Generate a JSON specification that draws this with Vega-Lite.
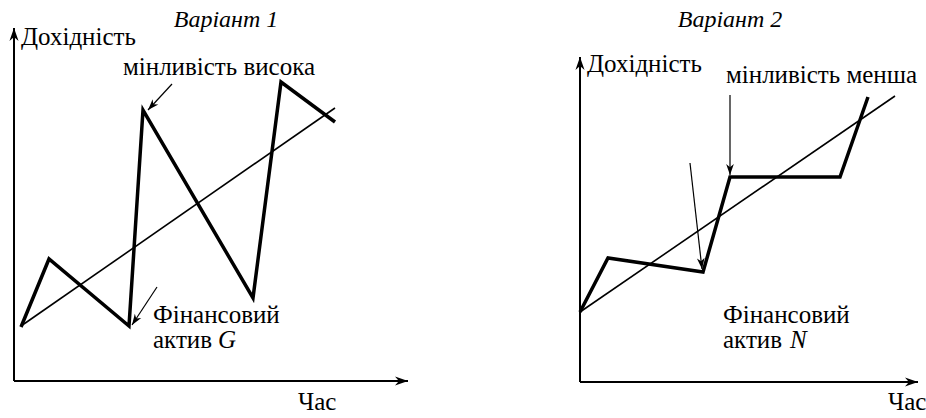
{
  "$schema": "https://vega.github.io/schema/vega-lite/v6.json",
  "padding": 0,
  "spacing": 0,
  "bounds": "flush",
  "config": {
    "view": {"stroke": null},
    "font": "Liberation Serif, Times New Roman, DejaVu Serif, serif",
    "text": {"font": "Liberation Serif, Times New Roman, DejaVu Serif, serif", "fontSize": 25, "color": "#000"}
  },
  "datasets": {
    "path": [
      {"panel": "G", "step": 1, "t": 1.75, "r": 13.5},
      {"panel": "G", "step": 2, "t": 8.75, "r": 30.5},
      {"panel": "G", "step": 3, "t": 28.75, "r": 13.75},
      {"panel": "G", "step": 4, "t": 32.25, "r": 67.75},
      {"panel": "G", "step": 5, "t": 59.75, "r": 20.75},
      {"panel": "G", "step": 6, "t": 66.75, "r": 74.75},
      {"panel": "G", "step": 7, "t": 80.25, "r": 64.75},
      {"panel": "N", "step": 1, "t": 0, "r": 17.5},
      {"panel": "N", "step": 2, "t": 7, "r": 31},
      {"panel": "N", "step": 3, "t": 30.75, "r": 27.5},
      {"panel": "N", "step": 4, "t": 37.5, "r": 51.25},
      {"panel": "N", "step": 5, "t": 65, "r": 51.25},
      {"panel": "N", "step": 6, "t": 72, "r": 71.25}
    ],
    "segments": [
      {"panel": "G", "id": "axis-r", "kind": "axis", "t": 0, "r": 0, "t2": 0, "r2": 88.25},
      {"panel": "G", "id": "axis-t", "kind": "axis", "t": 0, "r": 0, "t2": 98.5, "r2": 0},
      {"panel": "G", "id": "trend", "kind": "trend", "t": 1.75, "r": 13.75, "t2": 80.25, "r2": 68.25},
      {"panel": "G", "id": "peak", "kind": "pointer", "t": 39.5, "r": 74.25, "t2": 33.5, "r2": 67.75},
      {"panel": "G", "id": "asset", "kind": "pointer", "t": 35.75, "r": 23.5, "t2": 29.5, "r2": 14},
      {"panel": "N", "id": "axis-r", "kind": "axis", "t": 0, "r": 0, "t2": 0, "r2": 81.25},
      {"panel": "N", "id": "axis-t", "kind": "axis", "t": 0, "r": 0, "t2": 84.5, "r2": 0},
      {"panel": "N", "id": "trend", "kind": "trend", "t": 0, "r": 17.5, "t2": 78.75, "r2": 71.5},
      {"panel": "N", "id": "plateau", "kind": "pointer", "t": 37.5, "r": 71.75, "t2": 37.5, "r2": 51.75},
      {"panel": "N", "id": "asset", "kind": "pointer", "t": 27.5, "r": 54.75, "t2": 30.5, "r2": 28.25}
    ],
    "labels": [
      {"panel": "G", "text": "Дохідність", "t": 1.75, "r": 84},
      {"panel": "G", "text": "мінливість висока", "t": 27.25, "r": 76.5},
      {"panel": "G", "text": "Фінансовий", "t": 34.75, "r": 14.5},
      {"panel": "G", "text": "актив", "t": 34.75, "r": 8.25},
      {"panel": "G", "text": "Час", "t": 71, "r": -7.25},
      {"panel": "N", "text": "Дохідність", "t": 1.75, "r": 77.5},
      {"panel": "N", "text": "мінливість менша", "t": 36.5, "r": 74.75},
      {"panel": "N", "text": "Фінансовий", "t": 35.75, "r": 14.75},
      {"panel": "N", "text": "актив", "t": 35.75, "r": 8.5},
      {"panel": "N", "text": "Час", "t": 77, "r": -7}
    ],
    "titles": [
      {"panel": "G", "text": "Варіант 1", "t": 53, "r": 88.5},
      {"panel": "N", "text": "Варіант 2", "t": 37.5, "r": 88.75}
    ],
    "symbols": [
      {"panel": "G", "text": "G", "t": 51, "r": 8.25},
      {"panel": "N", "text": "N", "t": 52.5, "r": 8.5}
    ]
  },
  "hconcat": [
    {
      "width": 463,
      "height": 418,
      "encoding": {
        "x": {"field": "t", "type": "quantitative", "scale": {"domain": [-3.5, 112.25], "nice": false, "zero": false}, "axis": null},
        "y": {"field": "r", "type": "quantitative", "scale": {"domain": [-9.25, 95.25], "nice": false, "zero": false}, "axis": null}
      },
      "layer": [
        {
          "data": {"name": "segments"},
          "transform": [{"filter": "datum.panel === 'G' && datum.kind === 'axis'"}],
          "mark": {"type": "rule", "strokeWidth": 2, "color": "#000"},
          "encoding": {"x2": {"field": "t2"}, "y2": {"field": "r2"}}
        },
        {
          "data": {"name": "segments"},
          "transform": [{"filter": "datum.panel === 'G' && datum.kind === 'trend'"}],
          "mark": {"type": "rule", "strokeWidth": 1.6, "color": "#000"},
          "encoding": {"x2": {"field": "t2"}, "y2": {"field": "r2"}}
        },
        {
          "data": {"name": "segments"},
          "transform": [{"filter": "datum.panel === 'G' && datum.kind === 'pointer'"}],
          "mark": {"type": "rule", "strokeWidth": 1.2, "color": "#000"},
          "encoding": {"x2": {"field": "t2"}, "y2": {"field": "r2"}}
        },
        {
          "data": {"name": "path"},
          "transform": [{"filter": "datum.panel === 'G'"}],
          "mark": {"type": "line", "strokeWidth": 3.5, "color": "#000", "strokeJoin": "miter", "strokeCap": "butt"},
          "encoding": {"order": {"field": "step"}}
        },
        {
          "data": {"name": "segments"},
          "transform": [{"filter": "datum.panel === 'G' && datum.id === 'axis-r'"}],
          "mark": {"type": "point", "shape": "M0,0 L-2,-0.7 L-1.4,0 L-2,0.7 Z", "filled": true, "color": "#000", "opacity": 1, "size": 169, "angle": -90, "strokeWidth": 0},
          "encoding": {
            "x": {"field": "t2", "type": "quantitative", "scale": {"domain": [-3.5, 112.25], "nice": false, "zero": false}, "axis": null},
            "y": {"field": "r2", "type": "quantitative", "scale": {"domain": [-9.25, 95.25], "nice": false, "zero": false}, "axis": null}
          }
        },
        {
          "data": {"name": "segments"},
          "transform": [{"filter": "datum.panel === 'G' && datum.id === 'axis-t'"}],
          "mark": {"type": "point", "shape": "M0,0 L-2,-0.7 L-1.4,0 L-2,0.7 Z", "filled": true, "color": "#000", "opacity": 1, "size": 169, "angle": 0, "strokeWidth": 0},
          "encoding": {
            "x": {"field": "t2", "type": "quantitative", "scale": {"domain": [-3.5, 112.25], "nice": false, "zero": false}, "axis": null},
            "y": {"field": "r2", "type": "quantitative", "scale": {"domain": [-9.25, 95.25], "nice": false, "zero": false}, "axis": null}
          }
        },
        {
          "data": {"name": "segments"},
          "transform": [{"filter": "datum.panel === 'G' && datum.id === 'peak'"}],
          "mark": {"type": "point", "shape": "M0,0 L-2,-0.7 L-1.4,0 L-2,0.7 Z", "filled": true, "color": "#000", "opacity": 1, "size": 121, "angle": 132.7, "strokeWidth": 0},
          "encoding": {
            "x": {"field": "t2", "type": "quantitative", "scale": {"domain": [-3.5, 112.25], "nice": false, "zero": false}, "axis": null},
            "y": {"field": "r2", "type": "quantitative", "scale": {"domain": [-9.25, 95.25], "nice": false, "zero": false}, "axis": null}
          }
        },
        {
          "data": {"name": "segments"},
          "transform": [{"filter": "datum.panel === 'G' && datum.id === 'asset'"}],
          "mark": {"type": "point", "shape": "M0,0 L-2,-0.7 L-1.4,0 L-2,0.7 Z", "filled": true, "color": "#000", "opacity": 1, "size": 121, "angle": 123.3, "strokeWidth": 0},
          "encoding": {
            "x": {"field": "t2", "type": "quantitative", "scale": {"domain": [-3.5, 112.25], "nice": false, "zero": false}, "axis": null},
            "y": {"field": "r2", "type": "quantitative", "scale": {"domain": [-9.25, 95.25], "nice": false, "zero": false}, "axis": null}
          }
        },
        {
          "data": {"name": "labels"},
          "transform": [{"filter": "datum.panel === 'G'"}],
          "mark": {"type": "text", "align": "left", "baseline": "alphabetic", "font": "Liberation Serif, Times New Roman, DejaVu Serif, serif", "fontSize": 25},
          "encoding": {"text": {"field": "text"}}
        },
        {
          "data": {"name": "symbols"},
          "transform": [{"filter": "datum.panel === 'G'"}],
          "mark": {"type": "text", "align": "left", "baseline": "alphabetic", "fontStyle": "italic", "font": "Liberation Serif, Times New Roman, DejaVu Serif, serif", "fontSize": 25},
          "encoding": {"text": {"field": "text"}}
        },
        {
          "data": {"name": "titles"},
          "transform": [{"filter": "datum.panel === 'G'"}],
          "mark": {"type": "text", "align": "center", "baseline": "alphabetic", "fontStyle": "italic", "font": "Liberation Serif, Times New Roman, DejaVu Serif, serif", "fontSize": 24},
          "encoding": {"text": {"field": "text"}}
        }
      ]
    },
    {
      "width": 463,
      "height": 418,
      "encoding": {
        "x": {"field": "t", "type": "quantitative", "scale": {"domain": [-29.25, 86.5], "nice": false, "zero": false}, "axis": null},
        "y": {"field": "r", "type": "quantitative", "scale": {"domain": [-9, 95.5], "nice": false, "zero": false}, "axis": null}
      },
      "layer": [
        {
          "data": {"name": "segments"},
          "transform": [{"filter": "datum.panel === 'N' && datum.kind === 'axis'"}],
          "mark": {"type": "rule", "strokeWidth": 2, "color": "#000"},
          "encoding": {"x2": {"field": "t2"}, "y2": {"field": "r2"}}
        },
        {
          "data": {"name": "segments"},
          "transform": [{"filter": "datum.panel === 'N' && datum.kind === 'trend'"}],
          "mark": {"type": "rule", "strokeWidth": 1.6, "color": "#000"},
          "encoding": {"x2": {"field": "t2"}, "y2": {"field": "r2"}}
        },
        {
          "data": {"name": "segments"},
          "transform": [{"filter": "datum.panel === 'N' && datum.kind === 'pointer'"}],
          "mark": {"type": "rule", "strokeWidth": 1.2, "color": "#000"},
          "encoding": {"x2": {"field": "t2"}, "y2": {"field": "r2"}}
        },
        {
          "data": {"name": "path"},
          "transform": [{"filter": "datum.panel === 'N'"}],
          "mark": {"type": "line", "strokeWidth": 3.5, "color": "#000", "strokeJoin": "miter", "strokeCap": "butt"},
          "encoding": {"order": {"field": "step"}}
        },
        {
          "data": {"name": "segments"},
          "transform": [{"filter": "datum.panel === 'N' && datum.id === 'axis-r'"}],
          "mark": {"type": "point", "shape": "M0,0 L-2,-0.7 L-1.4,0 L-2,0.7 Z", "filled": true, "color": "#000", "opacity": 1, "size": 169, "angle": -90, "strokeWidth": 0},
          "encoding": {
            "x": {"field": "t2", "type": "quantitative", "scale": {"domain": [-29.25, 86.5], "nice": false, "zero": false}, "axis": null},
            "y": {"field": "r2", "type": "quantitative", "scale": {"domain": [-9, 95.5], "nice": false, "zero": false}, "axis": null}
          }
        },
        {
          "data": {"name": "segments"},
          "transform": [{"filter": "datum.panel === 'N' && datum.id === 'axis-t'"}],
          "mark": {"type": "point", "shape": "M0,0 L-2,-0.7 L-1.4,0 L-2,0.7 Z", "filled": true, "color": "#000", "opacity": 1, "size": 169, "angle": 0, "strokeWidth": 0},
          "encoding": {
            "x": {"field": "t2", "type": "quantitative", "scale": {"domain": [-29.25, 86.5], "nice": false, "zero": false}, "axis": null},
            "y": {"field": "r2", "type": "quantitative", "scale": {"domain": [-9, 95.5], "nice": false, "zero": false}, "axis": null}
          }
        },
        {
          "data": {"name": "segments"},
          "transform": [{"filter": "datum.panel === 'N' && datum.id === 'plateau'"}],
          "mark": {"type": "point", "shape": "M0,0 L-2,-0.7 L-1.4,0 L-2,0.7 Z", "filled": true, "color": "#000", "opacity": 1, "size": 121, "angle": 90, "strokeWidth": 0},
          "encoding": {
            "x": {"field": "t2", "type": "quantitative", "scale": {"domain": [-29.25, 86.5], "nice": false, "zero": false}, "axis": null},
            "y": {"field": "r2", "type": "quantitative", "scale": {"domain": [-9, 95.5], "nice": false, "zero": false}, "axis": null}
          }
        },
        {
          "data": {"name": "segments"},
          "transform": [{"filter": "datum.panel === 'N' && datum.id === 'asset'"}],
          "mark": {"type": "point", "shape": "M0,0 L-2,-0.7 L-1.4,0 L-2,0.7 Z", "filled": true, "color": "#000", "opacity": 1, "size": 121, "angle": 83.5, "strokeWidth": 0},
          "encoding": {
            "x": {"field": "t2", "type": "quantitative", "scale": {"domain": [-29.25, 86.5], "nice": false, "zero": false}, "axis": null},
            "y": {"field": "r2", "type": "quantitative", "scale": {"domain": [-9, 95.5], "nice": false, "zero": false}, "axis": null}
          }
        },
        {
          "data": {"name": "labels"},
          "transform": [{"filter": "datum.panel === 'N'"}],
          "mark": {"type": "text", "align": "left", "baseline": "alphabetic", "font": "Liberation Serif, Times New Roman, DejaVu Serif, serif", "fontSize": 25},
          "encoding": {"text": {"field": "text"}}
        },
        {
          "data": {"name": "symbols"},
          "transform": [{"filter": "datum.panel === 'N'"}],
          "mark": {"type": "text", "align": "left", "baseline": "alphabetic", "fontStyle": "italic", "font": "Liberation Serif, Times New Roman, DejaVu Serif, serif", "fontSize": 25},
          "encoding": {"text": {"field": "text"}}
        },
        {
          "data": {"name": "titles"},
          "transform": [{"filter": "datum.panel === 'N'"}],
          "mark": {"type": "text", "align": "center", "baseline": "alphabetic", "fontStyle": "italic", "font": "Liberation Serif, Times New Roman, DejaVu Serif, serif", "fontSize": 24},
          "encoding": {"text": {"field": "text"}}
        }
      ]
    }
  ]
}
